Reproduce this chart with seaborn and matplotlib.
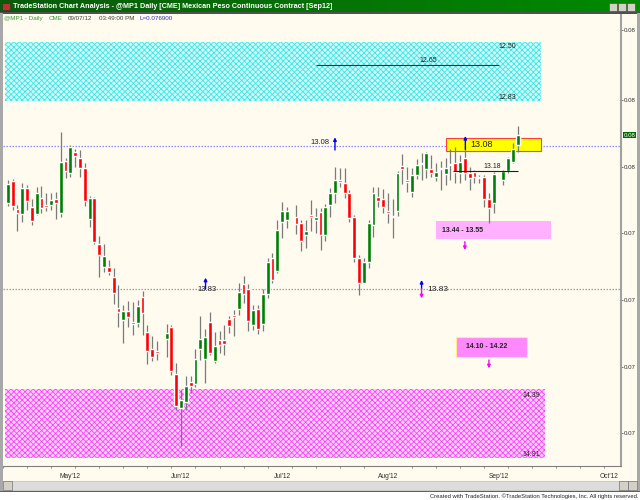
import numpy as np
import pandas as pd
import matplotlib
matplotlib.use("Agg")
import matplotlib.pyplot as plt
from matplotlib.patches import Rectangle
import seaborn as sns

sns.set_style("white")
plt.rcParams['font.family'] = ['Liberation Sans', 'DejaVu Sans']
plt.rcParams['hatch.linewidth'] = 0.6

W, H = 640, 500
nan = np.nan

# daily bars, @MP1 (USD per peso), weekdays from 12 Apr 2012 to 7 Sep 2012
dates = pd.bdate_range('2012-04-12', '2012-09-07')
opens = [0.07510, 0.07577, 0.07492, 0.07477, 0.07557, 0.07498, 0.07477, 0.07527, 0.07504, 0.07505,
         0.07523, 0.07482, 0.07638, 0.07602, 0.07665, 0.07647, 0.07615, 0.07463, 0.07527, 0.07388,
         0.07320, 0.07318, 0.07290, 0.07195, 0.07160, 0.07188, 0.07154, 0.07152, 0.07230, 0.07125,
         0.07072, 0.07068, nan, 0.07102, 0.07138, 0.06998, 0.06897, 0.06915, 0.06975, 0.06968,
         0.07072, 0.07043, 0.07153, 0.07037, 0.07100, 0.07100, 0.07162, 0.07175, 0.07192, 0.07268,
         0.07253, 0.07145, 0.07193, 0.07148, 0.07237, 0.07345, 0.07307, 0.07455, 0.07460, nan,
         0.07468, 0.07450, 0.07415, 0.07475, 0.07460, 0.07483, 0.07415, 0.07505, 0.07542, 0.07580,
         0.07572, 0.07542, 0.07470, 0.07345, 0.07272, 0.07335, 0.07445, 0.07528, 0.07522, 0.07488,
         0.07468, 0.07488, 0.07622, 0.07580, 0.07545, 0.07595, 0.07627, 0.07612, 0.07612, 0.07590,
         0.07612, 0.07598, 0.07624, 0.07632, 0.07602, 0.07645, 0.07600, 0.07605, 0.07585, 0.07590,
         0.07522, 0.07510, nan, 0.07580, 0.07608, 0.07635, 0.07685]
highs = [0.07580, 0.07582, 0.07505, 0.07572, 0.07565, 0.07522, 0.07560, 0.07563, 0.07540, 0.07542,
         0.07545, 0.07725, 0.07645, 0.07685, 0.07673, 0.07670, 0.07632, 0.07532, 0.07528, 0.07412,
         0.07388, 0.07340, 0.07315, 0.07265, 0.07205, 0.07218, 0.07215, 0.07220, 0.07247, 0.07145,
         0.07112, 0.07097, nan, 0.07148, 0.07145, 0.07032, 0.06950, 0.06993, 0.06993, 0.07072,
         0.07172, 0.07132, 0.07185, 0.07125, 0.07127, 0.07145, 0.07172, 0.07190, 0.07270, 0.07292,
         0.07267, 0.07205, 0.07205, 0.07252, 0.07346, 0.07360, 0.07460, 0.07515, 0.07500, nan,
         0.07505, 0.07460, 0.07460, 0.07520, 0.07495, 0.07495, 0.07508, 0.07555, 0.07618, 0.07615,
         0.07615, 0.07550, 0.07475, 0.07355, 0.07345, 0.07460, 0.07558, 0.07558, 0.07552, 0.07542,
         0.07522, 0.07608, 0.07657, 0.07618, 0.07615, 0.07642, 0.07662, 0.07665, 0.07655, 0.07630,
         0.07637, 0.07645, 0.07672, 0.07680, 0.07655, 0.07680, 0.07620, 0.07610, 0.07595, 0.07595,
         0.07540, 0.07605, nan, 0.07610, 0.07650, 0.07690, 0.07742]
lows = [0.07502, 0.07490, 0.07428, 0.07455, 0.07490, 0.07445, 0.07475, 0.07482, 0.07488, 0.07490,
        0.07463, 0.07468, 0.07585, 0.07588, 0.07620, 0.07590, 0.07503, 0.07438, 0.07388, 0.07290,
        0.07305, 0.07295, 0.07208, 0.07140, 0.07090, 0.07140, 0.07115, 0.07140, 0.07115, 0.07028,
        0.07038, 0.07040, nan, 0.07050, 0.06995, 0.06890, 0.06782, 0.06890, 0.06940, 0.06960,
        0.07040, 0.06972, 0.07055, 0.07030, 0.07060, 0.07055, 0.07120, 0.07112, 0.07175, 0.07210,
        0.07128, 0.07130, 0.07118, 0.07128, 0.07225, 0.07271, 0.07301, 0.07405, 0.07435, nan,
        0.07418, 0.07368, 0.07375, 0.07428, 0.07420, 0.07370, 0.07398, 0.07468, 0.07510, 0.07560,
        0.07525, 0.07454, 0.07334, 0.07235, 0.07270, 0.07315, 0.07410, 0.07500, 0.07482, 0.07452,
        0.07407, 0.07472, 0.07568, 0.07545, 0.07528, 0.07582, 0.07580, 0.07585, 0.07588, 0.07577,
        0.07550, 0.07565, 0.07580, 0.07570, 0.07570, 0.07580, 0.07550, 0.07570, 0.07570, 0.07500,
        0.07450, 0.07480, nan, 0.07565, 0.07600, 0.07630, 0.07665]
closes = [0.07567, 0.07503, 0.07482, 0.07557, 0.07518, 0.07457, 0.07542, 0.07495, 0.07500, 0.07519,
          0.07510, 0.07633, 0.07608, 0.07678, 0.07653, 0.07617, 0.07518, 0.07527, 0.07393, 0.07355,
          0.07353, 0.07305, 0.07241, 0.07183, 0.07188, 0.07170, 0.07148, 0.07202, 0.07182, 0.07068,
          0.07048, 0.07060, nan, 0.07120, 0.07007, 0.06903, 0.06920, 0.06962, 0.06962, 0.07042,
          0.07102, 0.07110, 0.07062, 0.07082, 0.07085, 0.07088, 0.07142, 0.07170, 0.07245, 0.07238,
          0.07157, 0.07190, 0.07132, 0.07238, 0.07335, 0.07280, 0.07430, 0.07487, 0.07487, nan,
          0.07447, 0.07398, 0.07428, 0.07470, 0.07468, 0.07415, 0.07498, 0.07540, 0.07580, 0.07574,
          0.07540, 0.07465, 0.07345, 0.07272, 0.07335, 0.07452, 0.07542, 0.07518, 0.07500, 0.07482,
          0.07473, 0.07602, 0.07612, 0.07574, 0.07595, 0.07625, 0.07630, 0.07660, 0.07600, 0.07605,
          0.07615, 0.07615, 0.07627, 0.07605, 0.07635, 0.07602, 0.07585, 0.07590, 0.07590, 0.07522,
          0.07495, 0.07598, nan, 0.07608, 0.07645, 0.07672, 0.07715]

# price axis ticks (labels are rounded to 2 decimals by the platform)
ytick_values = [0.0803, 0.0782, 0.0762, 0.0742, 0.0722, 0.0702, 0.0682]
month_labels = ["May'12", "Jun'12", "Jul'12", "Aug'12", "Sep'12", "Oct'12"]
month_bar = [13, 36, 57, 79, 102, 125]   # bar slot of each month label

# supply / demand zones and levels
cyan_zone = (0.07818, 0.07994)
magenta_zone = (0.06746, 0.06953)
level_1308 = 0.07682
level_1383 = 0.07253
level_1265 = 0.07925
level_1318 = 0.07607
box_1344 = (0.07403, 0.07457)
box_1410 = (0.07048, 0.07110)
yellow_box = (0.07667, 0.07706)
last_price = 0.07715

df = pd.DataFrame({'date': dates, 'open': opens, 'high': highs, 'low': lows, 'close': closes})
df['i'] = np.arange(len(df))

fig = plt.figure(figsize=(W / 100, H / 100), dpi=100)
fig.patch.set_facecolor('white')


def fbox(x0, y0, x1, y1):
    return [x0 / W, 1 - y1 / H, (x1 - x0) / W, (y1 - y0) / H]


def ftxt(x, y, s, **kw):
    fig.text(x / W, 1 - y / H, s, **kw)


def frect(x0, y0, x1, y1, **kw):
    fig.patches.append(Rectangle((x0 / W, 1 - y1 / H), (x1 - x0) / W, (y1 - y0) / H,
                                 transform=fig.transFigure, figure=fig, **kw))


cream = '#fffbef'
frect(0, 0, 640, 491, facecolor=cream, edgecolor='none', zorder=-5)

# title bar
tb = fig.add_axes(fbox(0, 0, 640, 12))
tb.imshow(np.linspace(0, 1, 256)[None, :], aspect='auto', extent=(0, 1, 0, 1),
          cmap=matplotlib.colors.LinearSegmentedColormap.from_list('g', ['#0b5a0b', '#008a00']))
tb.set_axis_off()
ftxt(13, 6.5, "TradeStation Chart Analysis - @MP1 Daily [CME] Mexican Peso Continuous Contract [Sep12]",
     color='white', fontsize=5.25, fontweight='bold', va='center', zorder=10)
frect(2, 3, 10, 10, facecolor='#c03030', edgecolor='#204020', lw=0.5, zorder=10)
for bx in (609, 618, 627):
    frect(bx, 3, bx + 8, 11, facecolor='#d4d0c8', edgecolor='#404040', lw=0.4, zorder=10)
frect(0, 12, 640, 13.5, facecolor='#505050', edgecolor='none', zorder=10)

# chart
ax = fig.add_axes(fbox(3, 14, 621, 466))
ax.set_facecolor(cream)
x0_i = -0.5
ax.set_xlim(x0_i, 127.45)
ax.set_ylim(0.06722, 0.08078)

up = df['close'] >= df['open']
body_lo = np.minimum(df['open'], df['close'])
body_h = np.maximum((df['close'] - df['open']).abs(), 0.000015)
ax.vlines(df['i'], df['low'], df['high'], color='#7a7a7a', lw=0.9, zorder=3)
ax.bar(df['i'][up], body_h[up], bottom=body_lo[up], width=0.8, color='#008000', zorder=4)
ax.bar(df['i'][~up], body_h[~up], bottom=body_lo[~up], width=0.8, color='#ff0000', zorder=4)

# zones
ax.add_patch(Rectangle((x0_i, cyan_zone[0]), 110.9 - x0_i, cyan_zone[1] - cyan_zone[0],
                       facecolor='#d2fbfb', edgecolor='#3ae6e6', hatch='xxxxxx', lw=0, zorder=1))
ax.add_patch(Rectangle((x0_i, magenta_zone[0]), 111.7 - x0_i, magenta_zone[1] - magenta_zone[0],
                       facecolor='#ffd2ff', edgecolor='#ff40ff', hatch='xxxxxx', lw=0, zorder=1))
ax.hlines(level_1265, 64.1, 102.0, color='#303030', lw=0.8, zorder=2)
ax.text(87.3, level_1265 + 0.00003, '12.65', fontsize=5, ha='center', va='bottom', color='#202020')
ax.text(103.8, 0.07982, '12.50', fontsize=5, ha='center', va='center', color='#202020')
ax.text(103.8, 0.07827, '12.83', fontsize=5, ha='center', va='center', color='#202020')
ax.text(108.8, 0.06935, '14.39', fontsize=5, ha='center', va='center', color='#202020')
ax.text(108.8, 0.06758, '14.91', fontsize=5, ha='center', va='center', color='#202020')

# levels
ax.axhline(level_1308, color='#8c8cff', lw=0.9, ls=(0, (1.2, 1.2)), zorder=2)
ax.axhline(level_1383, color='#a0a0a0', lw=0.9, ls=(0, (1.2, 1.2)), zorder=2)
ax.text(66.8, level_1308 + 0.00001, '13.08', fontsize=5.5, ha='right', va='bottom', color='#202020', zorder=6)
ax.text(41.5, level_1383, '13.83', fontsize=5.5, ha='center', va='center', color='#202020', zorder=6)
ax.text(87.3, level_1383, '13.83', fontsize=6, ha='left', va='center', color='#202020', zorder=6)


def arrow(i, p_from, p_to, color):
    ax.annotate('', xy=(i, p_to), xytext=(i, p_from),
                arrowprops=dict(arrowstyle='-|>', color=color, lw=1.0, mutation_scale=4.5,
                                shrinkA=0, shrinkB=0), zorder=7)


arrow(68.0, 0.07670, 0.07708, '#0000ff')
arrow(41.1, 0.07253, 0.07287, '#0000ff')
arrow(86.0, 0.07253, 0.07280, '#0000ff')
arrow(86.0, 0.07253, 0.07225, '#ff00ff')

ax.add_patch(Rectangle((91.0, yellow_box[0]), 19.9, yellow_box[1] - yellow_box[0],
                       facecolor='#ffff00', edgecolor='#ff4040', lw=0.8, zorder=2))
arrow(95.1, 0.07672, 0.07712, '#0000ff')
ax.text(96.2, level_1308 + 0.00004, '13.08', fontsize=6.5, ha='left', va='center', color='#202020', zorder=6)

ax.hlines(level_1318, 92.5, 106.1, color='#202020', lw=0.8, zorder=5)
ax.text(100.7, level_1318 + 0.00002, '13.18', fontsize=5, ha='center', va='bottom', color='#202020', zorder=6)

ax.add_patch(Rectangle((89.1, box_1344[0]), 23.9, box_1344[1] - box_1344[0],
                       facecolor='#ffb0ff', edgecolor='none', zorder=2))
ax.text(90.2, sum(box_1344) / 2 - 0.00003, '13.44 - 13.55', fontsize=5, ha='left', va='center',
        color='#202020', fontweight='bold', zorder=6)
arrow(95.0, 0.07395, 0.07370, '#ff00ff')

ax.add_patch(Rectangle((93.1, box_1410[0]), 14.8, box_1410[1] - box_1410[0],
                       facecolor='#ff88ff', edgecolor='#ffee88', lw=0.8, zorder=2))
ax.text(95.2, sum(box_1410) / 2 + 0.00001, '14.10 - 14.22', fontsize=5, ha='left', va='center',
        color='#202020', fontweight='bold', zorder=6)
arrow(100.0, 0.07040, 0.07015, '#ff00ff')

# axes frame
for s in ('top', 'left'):
    ax.spines[s].set_visible(False)
ax.spines['right'].set_color('#a0a0a0')
ax.spines['right'].set_linewidth(1.5)
ax.spines['bottom'].set_color('#808080')
ax.spines['bottom'].set_linewidth(0.8)
ax.yaxis.tick_right()
ax.set_yticks(ytick_values)
ax.set_yticklabels(['%.2f' % v for v in ytick_values])
ax.tick_params(axis='y', length=1.5, width=0.6, color='#606060', labelsize=4.4, labelcolor='#303030', pad=0.8)

ax.set_xticks(month_bar)
ax.set_xticklabels(month_labels)
ax.set_xticks(np.arange(-1, 128, 5), minor=True)
ax.tick_params(axis='x', which='major', length=3, width=0.6, color='#404040', labelsize=4.8,
               labelcolor='#303030', pad=2)
ax.tick_params(axis='x', which='minor', length=1.5, width=0.5, color='#606060', bottom=True)

# last price marker
ax.text(1.004, last_price, '0.08', transform=ax.get_yaxis_transform(), fontsize=4.4, color='white',
        ha='left', va='center', bbox=dict(boxstyle='square,pad=0.15', fc='#006a00', ec='none'), zorder=8)

# header line
ftxt(4, 18.5, '@MP1 - Daily', color='#3a9a3a', fontsize=4.5, va='center', zorder=10)
ftxt(49, 18.5, 'CME', color='#3a9a3a', fontsize=4.5, va='center', zorder=10)
ftxt(68, 18.5, '09/07/12', color='#404040', fontsize=4.5, va='center', zorder=10)
ftxt(99, 18.5, '03:49:00 PM', color='#404040', fontsize=4.5, va='center', zorder=10)
ftxt(140, 18.5, 'L=0.076900', color='#3030b0', fontsize=4.5, va='center', zorder=10)

# window decoration
frect(0, 13, 2.5, 491, facecolor='#a8a8a8', edgecolor='none', zorder=10)
frect(637, 13, 640, 491, facecolor='#a8a8a8', edgecolor='none', zorder=10)
frect(3, 481, 637, 490, facecolor='#dcdcdc', edgecolor='#b0b0b0', lw=0.4, zorder=10)
for bx in (3, 619, 628):
    frect(bx, 481, bx + 9, 490, facecolor='#d4d0c8', edgecolor='#606060', lw=0.4, zorder=10)
frect(0, 490.5, 640, 492, facecolor='#606060', edgecolor='none', zorder=10)
ftxt(638, 496, 'Created with TradeStation. \u00a9TradeStation Technologies, Inc. All rights reserved.',
     fontsize=4.2, ha='right', va='center', color='#202020', zorder=10)

fig.savefig('out.png', dpi=100, facecolor=fig.get_facecolor())
